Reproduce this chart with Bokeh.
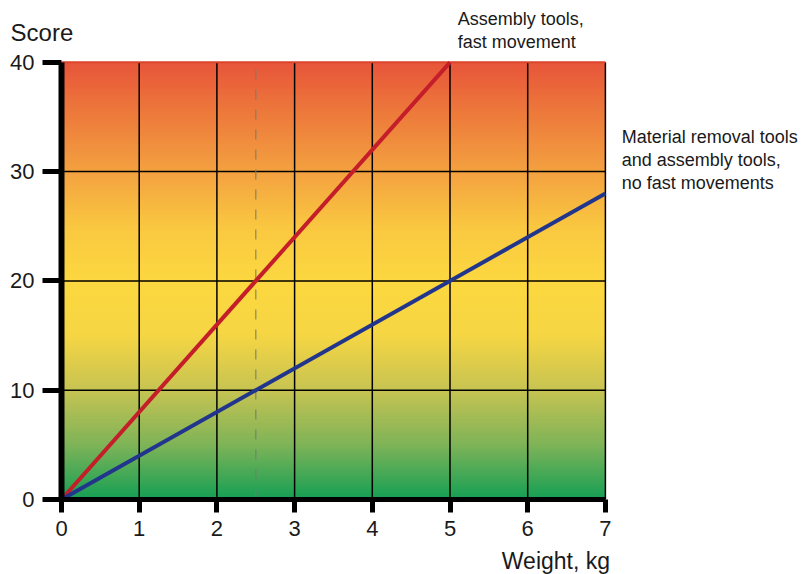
import numpy as np
from bokeh.plotting import figure
from bokeh.models import FixedTicker, Range1d
from bokeh.core.properties import value
from bokeh.embed import file_html
from bokeh.resources import INLINE

# ---- data ----
fast_x = [0, 5]
fast_score = [0, 40]
slow_x = [0, 7]
slow_score = [0, 28]
dash_x = [2.5, 2.5]
dash_y = [0, 40]
x_ticks = [0, 1, 2, 3, 4, 5, 6, 7]
y_ticks = [0, 10, 20, 30, 40]
x_max = 7
y_max = 40

# background colour stops (score level -> rgb)
stop_levels = [0, 5, 10, 15, 20, 25, 30, 35, 40]
stop_r = [22, 128, 200, 246, 253, 250, 244, 238, 232]
stop_g = [160, 180, 196, 214, 216, 200, 162, 125, 86]
stop_b = [85, 88, 82, 68, 64, 64, 64, 60, 58]

FONT = "Liberation Sans"
TXT = "#1a1a1a"

W, H = 800, 574
X0_PX, Y0_PX = 61, 499          # pixel position of the origin
PX_X, PX_Y = 77.7, 10.93        # pixels per unit

p = figure(width=W, height=H,
           x_range=Range1d(-X0_PX / PX_X, (W - X0_PX) / PX_X),
           y_range=Range1d(-(H - Y0_PX) / PX_Y, Y0_PX / PX_Y),
           min_border=0, output_backend="svg", toolbar_location=None,
           background_fill_color="white", border_fill_color="white")
p.outline_line_color = None
p.grid.visible = False

# gradient background
n = 300
lv = np.linspace(0, y_max, n)
r = np.interp(lv, stop_levels, stop_r).astype(np.uint32)
g = np.interp(lv, stop_levels, stop_g).astype(np.uint32)
b = np.interp(lv, stop_levels, stop_b).astype(np.uint32)
rgba = (255 << 24) | (b << 16) | (g << 8) | r
img = rgba.reshape(n, 1).astype(np.uint32)
p.image_rgba(image=[img], x=0, y=0, dw=x_max, dh=y_max)

# grid lines from the tick arrays
gx = x_ticks[1:]
p.segment(x0=gx, y0=[0] * len(gx), x1=gx, y1=[y_max] * len(gx),
          line_color="black", line_width=1.5)
gy = y_ticks[1:-1]
p.segment(x0=[0] * len(gy), y0=gy, x1=[x_max] * len(gy), y1=gy,
          line_color="black", line_width=1.5)
p.segment(x0=[0], y0=[y_max], x1=[x_max], y1=[y_max],
          line_color="#D9442A", line_width=2)

# dashed reference
p.line(dash_x, dash_y, line_color="#6f7f70", line_alpha=0.7,
       line_width=1.5, line_dash="10 10")

# lines
p.line(fast_x, fast_score, line_color="#C41E2A", line_width=4)
p.line(slow_x, slow_score, line_color="#22358C", line_width=4)

# axes
for ax in (p.xaxis[0], p.yaxis[0]):
    ax.fixed_location = 0
    ax.major_label_text_font = FONT
    ax.major_label_text_font_size = "22px"
    ax.major_label_text_color = TXT
    ax.axis_line_color = "black"
    ax.major_tick_line_color = "black"
    ax.major_tick_line_width = 5
    ax.major_tick_in = 0
    ax.minor_tick_line_color = None
    ax.major_tick_line_cap = "butt"

p.xaxis.ticker = FixedTicker(ticks=x_ticks)
p.yaxis.ticker = FixedTicker(ticks=y_ticks)
p.xaxis.bounds = (0, x_max)
p.yaxis.bounds = (0, y_max)
p.xaxis.axis_line_width = 5
p.yaxis.axis_line_width = 6
p.xaxis.major_tick_out = 13
p.yaxis.major_tick_out = 19
p.xaxis.major_label_standoff = 8
p.yaxis.major_label_standoff = 8

# texts
def txt(x, y, lines, size, align="left", base="top"):
    step = 23 / PX_Y
    for i, line in enumerate(lines):
        p.text(x=[x], y=[y - i * step], text=[line],
               text_font=value(FONT), text_font_size=size,
               text_color=TXT, text_align=align, text_baseline=base)

txt(-0.656, 44.0, ["Score"], "24px")
txt(7.06, -4.48, ["Weight, kg"], "23px", align="right")
txt(5.10, 44.85, ["Assembly tools,", "fast movement"], "18px")
txt(7.21, 34.05, ["Material removal tools", "and assembly tools,",
                  "no fast movements"], "18px")

open("out.html", "w").write(file_html(p, INLINE))
